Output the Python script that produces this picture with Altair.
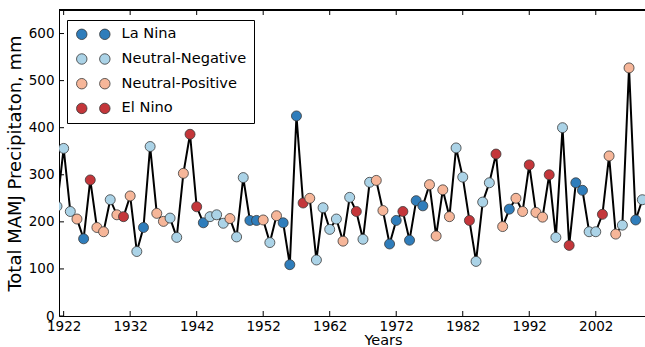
import altair as alt
import pandas as pd

years = list(range(1921, 2010))
precip = [233, 356, 222, 206, 164, 289, 188, 179, 247, 215,
          211, 255, 137, 188, 360, 218, 201, 208, 167, 303,
          386, 232, 198, 211, 215, 197, 207, 168, 294, 203,
          203, 204, 156, 213, 198, 109, 425, 240, 250, 119,
          230, 184, 206, 159, 252, 222, 163, 284, 288, 224,
          153, 203, 222, 161, 245, 234, 279, 170, 268, 211,
          357, 295, 203, 116, 242, 283, 344, 190, 227, 250,
          222, 321, 220, 210, 300, 167, 400, 150, 283, 267,
          179, 179, 216, 340, 174, 193, 527, 204, 247]
phase_codes = ["NN", "NN", "NN", "NP", "LN", "EN", "NP", "NP", "NN", "NP",
               "EN", "NP", "NN", "LN", "NN", "NP", "NP", "NN", "NN", "NP",
               "EN", "EN", "LN", "NN", "NN", "NN", "NP", "NN", "NN", "LN",
               "LN", "NP", "NN", "NP", "LN", "LN", "LN", "EN", "NP", "NN",
               "NN", "NN", "NN", "NP", "NN", "EN", "NN", "NN", "NP", "NP",
               "LN", "LN", "EN", "LN", "LN", "LN", "NP", "NP", "NP", "NP",
               "NN", "NN", "EN", "NN", "NN", "NN", "EN", "NP", "LN", "NP",
               "NP", "EN", "NP", "NP", "EN", "NN", "NN", "EN", "LN", "LN",
               "NN", "NN", "EN", "NP", "NP", "NN", "NP", "LN", "NN"]
phase_names = {"LN": "La Nina", "NN": "Neutral-Negative",
               "NP": "Neutral-Positive", "EN": "El Nino"}
categories = ["La Nina", "Neutral-Negative", "Neutral-Positive", "El Nino"]
colors = ["#2f7dbb", "#abd3e7", "#f6b699", "#c4363a"]
x_ticks = [1922, 1932, 1942, 1952, 1962, 1972, 1982, 1992, 2002]
y_ticks = [0, 100, 200, 300, 400, 500, 600]

df = pd.DataFrame({"year": years, "precip": precip,
                   "phase": [phase_names[c] for c in phase_codes]})
xt = pd.DataFrame({"year": x_ticks})
yt = pd.DataFrame({"precip": y_ticks})

W, H = 586, 306
xscale = alt.Scale(domain=[1921.3, 2009.4], nice=False, zero=False)
yscale = alt.Scale(domain=[0, 650], nice=False)
xaxis = alt.Axis(values=x_ticks, format="d", title="Years", labelPadding=3,
                 titlePadding=1, titleX=324, titleAlign="center",
                 domain=True, domainColor="black", domainWidth=1)
yaxis = alt.Axis(values=y_ticks, format="d",
                 title="Total MAMJ Precipitaton, mm", labelPadding=5,
                 titlePadding=4, titleFontSize=18,
                 domain=True, domainColor="black", domainWidth=1)

X = alt.X("year:Q", scale=xscale, axis=xaxis)
Y = alt.Y("precip:Q", scale=yscale, axis=yaxis)

# legend symbol: two markers side by side, as in the reference legend
two_dots = ("M-3.2,0A1,1,0,1,0,-1.2,0A1,1,0,1,0,-3.2,0Z"
            "M1.2,0A1,1,0,1,0,3.2,0A1,1,0,1,0,1.2,0Z")

line = alt.Chart(df).mark_line(color="black", strokeWidth=2, clip=True).encode(x=X, y=Y)

points = alt.Chart(df).mark_circle(size=100, opacity=1, stroke="#3a3a3a",
                                   strokeWidth=0.8, clip=True).encode(
    x=X, y=Y,
    color=alt.Color("phase:N", scale=alt.Scale(domain=categories, range=colors),
                    legend=alt.Legend(title=None, orient="none", legendX=8, legendY=10,
                                      padding=7, strokeColor="black", cornerRadius=0,
                                      labelColor="black", labelFontSize=14.6,
                                      symbolSize=110, symbolType=two_dots,
                                      symbolOffset=12, symbolStrokeColor="#3a3a3a",
                                      symbolStrokeWidth=0.8, symbolOpacity=1,
                                      rowPadding=8.7, labelOffset=21)))

top_rule = alt.Chart(xt).mark_rule(color="black", strokeWidth=1).encode(
    x=alt.value(0), x2=alt.value(W), y=alt.value(0))
xtick_bottom = alt.Chart(xt).mark_rule(color="black", strokeWidth=1).encode(
    x=X, y=alt.value(H), y2=alt.value(H - 5))
xtick_top = alt.Chart(xt).mark_rule(color="black", strokeWidth=1).encode(
    x=X, y=alt.value(0), y2=alt.value(5))
ytick_left = alt.Chart(yt).mark_rule(color="black", strokeWidth=1).encode(
    y=Y, x=alt.value(0), x2=alt.value(5))

chart = alt.layer(line, points, top_rule, xtick_bottom, xtick_top,
                  ytick_left).properties(
    width=W, height=H, autosize="none",
    padding={"left": 59, "top": 10, "right": 0, "bottom": 31},
).configure(font="DejaVu Sans").configure_view(
    strokeWidth=0
).configure_axis(
    ticks=False, grid=False, labelFontSize=13.5, labelColor="black",
    titleFontSize=14.5, titleFontWeight="normal", titleColor="black",
    labelFont="DejaVu Sans", titleFont="DejaVu Sans"
).configure_legend(labelFont="DejaVu Sans")

chart.save("out.html", embed_options={"renderer": "svg", "actions": False})
